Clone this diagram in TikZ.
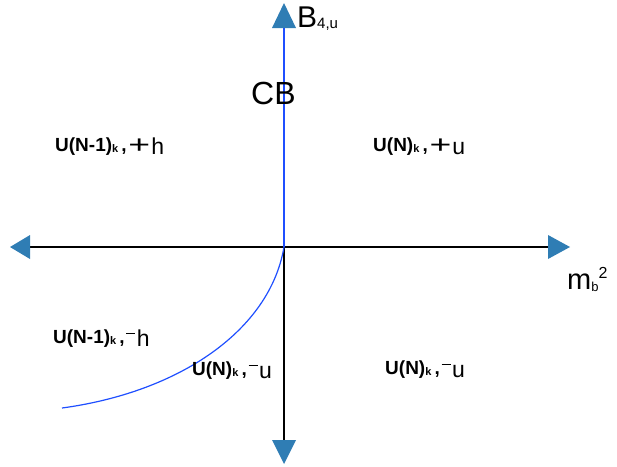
\documentclass[tikz,border=0pt]{standalone}
\usepackage{fontspec}
\setmainfont{Liberation Sans}
\usetikzlibrary{calc}
\definecolor{arrowblue}{HTML}{2F7DB4}
\definecolor{curveblue}{HTML}{1F4FFF}
\tikzset{
  tri/.style={fill=arrowblue, draw=none},
  axis/.style={line width=1.2pt, black},
  cb/.style={line width=1.2pt, curveblue},
  lbl/.style={anchor=base west, inner sep=0pt},
}
\newcommand{\bl}[2]{\raisebox{3pt}{\fontsize{19}{19}\selectfont\bfseries #1\raisebox{-1pt}{\fontsize{11}{11}\selectfont k}\,,}\,{\fontsize{23}{23}\selectfont #2}}
\newcommand{\mn}{\raisebox{12pt}{\rule{9pt}{1.5pt}}\hspace{1.5pt}}
\newcommand{\pl}{\raisebox{1pt}{\scalebox{1.7}[1.15]{\fontsize{22}{22}\selectfont +}}\hspace{1pt}}
\begin{document}
\begin{tikzpicture}[x=1pt,y=-1pt]
\useasboundingbox (0,0) rectangle (617,466);
\coordinate (O) at (284,247);
\coordinate (L) at (30,247);
\coordinate (R) at (548,247);
\coordinate (T) at (284,28);
\coordinate (B) at (284,440);
\coordinate (E) at (62,408);
\draw[axis] (L) -- (R);
\draw[axis] (O) -- (B);
\draw[cb] (T) -- (O);
\draw[cb] (O) .. controls (270,330) and (180,392) .. (E);
\fill[tri] (10,247) -- (30,235) -- (30,259) -- cycle;
\fill[tri] (570,247) -- (548,235) -- (548,259) -- cycle;
\fill[tri] (284,3) -- (272,28) -- (296,28) -- cycle;
\fill[tri] (284,464) -- (272,440) -- (296,440) -- cycle;
\node[lbl] (b4) at (297,27) {\fontsize{30}{30}\selectfont B\raisebox{-1pt}{\fontsize{15}{15}\selectfont 4,u}};
\node[lbl] (cbl) at (251,104) {\fontsize{32}{32}\selectfont CB};
\node[lbl] (mb) at (567,289) {\fontsize{29}{29}\selectfont m\raisebox{-2pt}{\fontsize{13}{13}\selectfont b}\raisebox{11pt}{\fontsize{16}{16}\selectfont 2}};
\node[lbl] (q1) at (55,154) {\bl{U(N-1)}{\pl h}};
\node[lbl] (q2) at (373,154) {\bl{U(N)}{\pl u}};
\node[lbl] (q3) at (53,346) {\bl{U(N-1)}{\mn h}};
\node[lbl] (q4) at (192,378) {\bl{U(N)}{\mn u}};
\node[lbl] (q5) at (385,377) {\bl{U(N)}{\mn u}};
\end{tikzpicture}
\end{document}
